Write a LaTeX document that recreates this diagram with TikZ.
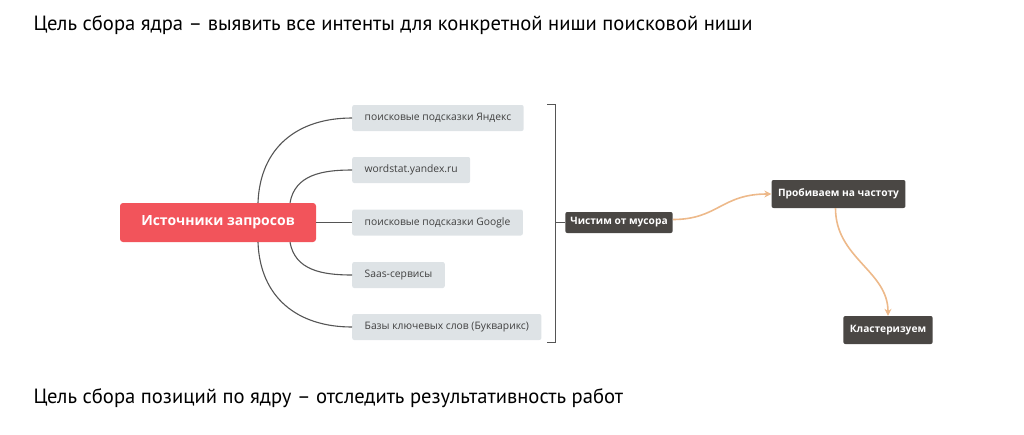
\documentclass[tikz,border=0pt]{standalone}
\usepackage{fontspec}
\setmainfont{Open Sans}
\newfontfamily\titlefont{PT Sans}
\usetikzlibrary{arrows.meta,calc}
\definecolor{redbox}{HTML}{F2545B}
\definecolor{graybox}{HTML}{DEE3E6}
\definecolor{darkbox}{HTML}{4A4744}
\definecolor{linegray}{HTML}{555555}
\definecolor{orangeline}{HTML}{EDB98A}
\tikzset{
  srcbox/.style={fill=graybox, rounded corners=2pt, minimum height=26pt, inner xsep=12.5pt, anchor=west, text=black!75, font=\fontsize{10.3}{12}\selectfont},
  stagebox/.style={fill=darkbox, rounded corners=2pt, text=white, font=\bfseries\fontsize{10.2}{12}\selectfont, inner xsep=6.5pt},
  branch/.style={draw=linegray, line width=1.1pt},
  flow/.style={draw=orangeline, line width=1.6pt, -{Stealth[length=7pt,width=7pt]}},
}
\begin{document}
\begin{tikzpicture}[x=1pt,y=-1pt]
\useasboundingbox (0,0) rectangle (1024,434);
\node[anchor=west, font=\titlefont\fontsize{20.6}{24}\selectfont] (title) at (30,25) {Цель сбора ядра – выявить все интенты для конкретной ниши поисковой ниши};
\node[anchor=west, font=\titlefont\fontsize{20.6}{24}\selectfont] (bottom) at (30,398) {Цель сбора позиций по ядру – отследить результативность работ};

\node[fill=redbox, rounded corners=3pt, minimum width=196pt, minimum height=39pt, text=white, font=\bfseries\fontsize{14}{16}\selectfont] (src) at (218,222.5) {Источники запросов};

\node[srcbox] (s1) at (352,118) {поисковые подсказки Яндекс};
\node[srcbox] (s2) at (352,170) {wordstat.yandex.ru};
\node[srcbox] (s3) at (352,222.5) {поисковые подсказки Google};
\node[srcbox] (s4) at (352,275) {Saas-сервисы};
\node[srcbox] (s5) at (352,327) {Базы ключевых слов (Букварикс)};

\draw[branch] ([xshift=40pt]src.north) .. controls +(2,-55) and +(-55,0) .. (s1.west);
\draw[branch] ([xshift=72pt]src.north) .. controls +(5,-28) and +(-30,0) .. (s2.west);
\draw[branch] (src.east) -- (s3.west);
\draw[branch] ([xshift=72pt]src.south) .. controls +(5,28) and +(-30,0) .. (s4.west);
\draw[branch] ([xshift=40pt]src.south) .. controls +(2,55) and +(-55,0) .. (s5.west);

\node[stagebox, minimum height=21pt, inner xsep=5pt] (clean) at (619,222.5) {Чистим от мусора};
\node[stagebox, minimum height=28pt] (freq) at (838.5,194) {Пробиваем на частоту};
\node[stagebox, minimum height=28pt] (clus) at (888,330) {Кластеризуем};

\coordinate (bt) at (555,104);
\coordinate (bb) at (555,342);
\draw[branch, line width=1pt] ([xshift=-8pt]bt) -- (bt) -- (bb) -- ([xshift=-8pt]bb);
\draw[branch, line width=1pt] (555,222.5) -- (clean.west);

\draw[flow] ([yshift=3pt]clean.east) .. controls +(45,0) and +(-50,0) .. (freq.west);
\draw[flow] ([xshift=-3pt]freq.south) .. controls +(0,50) and +(0,-45) .. (clus.north);
\end{tikzpicture}
\end{document}
